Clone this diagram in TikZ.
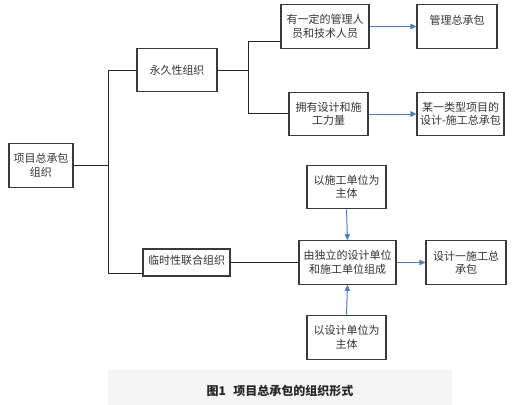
\documentclass[tikz,border=0pt]{standalone}
\usepackage{fontspec}
\newfontfamily\cjk{Noto Sans CJK SC}
\usetikzlibrary{arrows.meta}
\definecolor{boxline}{HTML}{3A3A3A}
\definecolor{arrblue}{HTML}{4F7EBB}
\definecolor{capbg}{HTML}{F5F5F5}

\begin{document}
\begin{tikzpicture}[x=1pt,y=-1pt,
  font=\cjk\fontsize{11}{13.5}\selectfont,
  box/.style={draw=boxline,line width=1.1pt,inner sep=0pt,align=center,
    text=black!80,minimum width=#1,minimum height=43.5pt},
  box/.default=80pt,
  link/.style={draw=black!85,line width=0.9pt},
  arr/.style={draw=arrblue,line width=1pt,->},
  >={Triangle[length=6pt,width=5.5pt]}]
  \fill[white] (0,0) rectangle (515,405);
  \fill[capbg] (108,370) rectangle (452,405);
  % left part
  \node[box=64pt] (root) at (41,165.5) {项目总承包\\组织};
  \node[box] (perm) at (177,70) {永久性组织};
  \node[box=87pt,minimum height=27pt,text depth=6pt] (temp) at (186.5,262.5) {临时性联合组织};
  % permanent branch
  \node[box=88pt] (staff) at (325,26.5) {有一定的管理人\\员和技术人员};
  \node[box] (mgmt) at (457,26.5) {管理总承包\\\mbox{}};
  \node[box=79pt] (force) at (328.5,114) {拥有设计和施\\工力量};
  \node[box=87pt] (typed) at (460.5,114) {某一类型项目的\\设计-施工总承包};
  % joint branch
  \node[box=79pt] (cons) at (346.5,187) {以施工单位为\\主体};
  \node[box=97pt] (joint) at (347.5,262.5) {由独立的设计单位\\和施工单位组成};
  \node[box=79pt] (des) at (346.5,337.5) {以设计单位为\\主体};
  \node[box] (dbuild) at (466,262.5) {设计一施工总\\承包};
  \node[font=\cjk\fontsize{12}{14}\selectfont\bfseries,text=black!85] (cap) at (280,391)
    {图1\hspace{0.6em}项目总承包的组织形式};
  % trunks
  \coordinate (j1) at (108,70);
  \coordinate (j2) at (108,273);
  \coordinate (k1) at (248,41);
  \coordinate (k2) at (248,113);
  \draw[link] (root.east) -- (root.east -| j1);
  \draw[link] (perm.west) -| (j2) -- (temp.west |- j2);
  \draw[link] (perm.east) -- (perm.east -| k1);
  \draw[link] (staff.west |- k1) -- (k1) -- (k2) -- (force.west |- k2);
  \draw[link] (temp.east |- joint.west) -- (joint.west);
  % arrows
  \draw[arr] (staff.east) -- (mgmt.west);
  \draw[arr] (force.east) -- (typed.west);
  \draw[arr] (cons.south) -- (joint.north);
  \draw[arr] (des.north) -- (joint.south);
  \draw[arr] (joint.east) -- (dbuild.west);
\end{tikzpicture}
\end{document}
